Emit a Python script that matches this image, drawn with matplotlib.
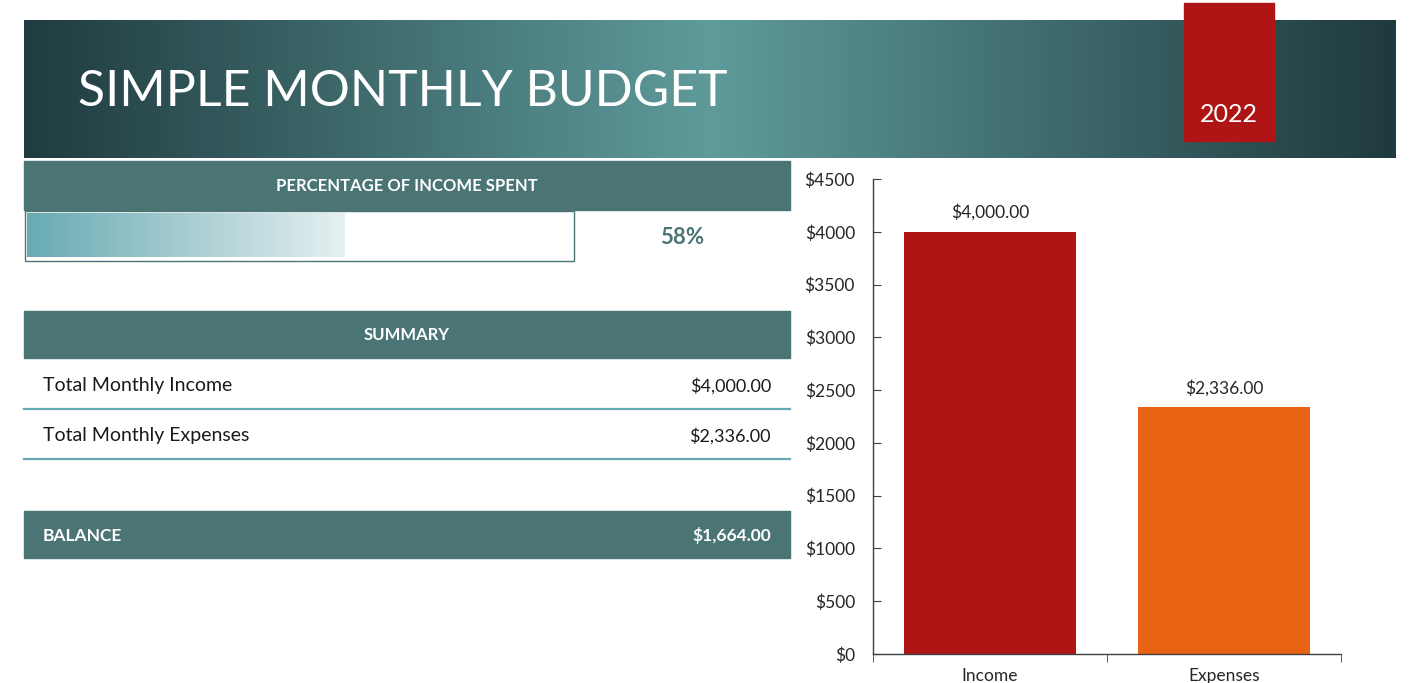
import numpy as np
import matplotlib
matplotlib.use("Agg")
import matplotlib.pyplot as plt
from matplotlib.patches import Rectangle
from matplotlib.colors import LinearSegmentedColormap

# ---- data ----
title = "SIMPLE MONTHLY BUDGET"
year = "2022"
categories = ["Income", "Expenses"]
values = [4000.00, 2336.00]
summary_labels = ["Total Monthly Income", "Total Monthly Expenses"]
balance = values[0] - values[1]
pct_spent = values[1] / values[0]
y_ticks = [0, 500, 1000, 1500, 2000, 2500, 3000, 3500, 4000, 4500]
bar_colors = ["#b01515", "#e86414"]

TEAL = "#4a7574"
LINE = "#65a9b2"
FONT = "Lato"

W, H = 1424, 683
fig = plt.figure(figsize=(W / 100, H / 100), dpi=100)
fig.patch.set_facecolor("white")

bg = fig.add_axes([0, 0, 1, 1])
bg.set_xlim(0, W)
bg.set_ylim(H, 0)
bg.axis("off")

# header gradient band
hdr_cmap = LinearSegmentedColormap.from_list(
    "hdr", [(0, "#203c40"), (0.5, "#5f9b9b"), (1, "#1f3a3e")])
grad = np.linspace(0, 1, 512).reshape(1, -1)
bg.imshow(grad, cmap=hdr_cmap, extent=(24, 1396, 158, 20), aspect="auto",
          interpolation="bilinear", zorder=1)
bg.text(78, 92, title, color="white", fontsize=36, fontfamily=FONT,
        fontweight="normal", va="center", ha="left", zorder=3)

# year tab
bg.add_patch(Rectangle((1184, 3), 90, 138, color="#b01515", zorder=2))
bg.text(1229, 114, year, color="white", fontsize=18, fontfamily=FONT,
        ha="center", va="center", zorder=3)

# percentage header
bg.add_patch(Rectangle((24, 161), 766, 49, color=TEAL, zorder=2))
bg.text(407, 186, "PERCENTAGE OF INCOME SPENT", color="white", fontsize=12,
        fontweight="bold", fontfamily=FONT, ha="center", va="center", zorder=3)

# progress box
bg.add_patch(Rectangle((24.5, 210.5), 549, 50, facecolor="white",
                       edgecolor=TEAL, linewidth=1, zorder=2))
inner_w = 544
pb_cmap = LinearSegmentedColormap.from_list("pb", ["#68aab3", "#e6f0f1"])
bg.imshow(grad, cmap=pb_cmap, extent=(27, 27 + inner_w * pct_spent, 257, 213),
          aspect="auto", interpolation="bilinear", zorder=3)
bg.text(682, 237, f"{pct_spent:.0%}", color=TEAL, fontsize=16, fontweight="bold",
        fontfamily=FONT, ha="center", va="center", zorder=3)

# summary header
bg.add_patch(Rectangle((24, 311), 766, 47, color=TEAL, zorder=2))
bg.text(407, 335, "SUMMARY", color="white", fontsize=12, fontweight="bold",
        fontfamily=FONT, ha="center", va="center", zorder=3)

row_y = [386, 436]
for lab, val, ry in zip(summary_labels, values, row_y):
    bg.text(43, ry, lab, color="#1a1a1a", fontsize=14, fontfamily=FONT,
            ha="left", va="center", zorder=3)
    bg.text(771, ry, f"${val:,.2f}", color="#1a1a1a", fontsize=13,
            fontfamily=FONT, ha="right", va="center", zorder=3)
    bg.plot([24, 790], [ry + 23, ry + 23], color=LINE, linewidth=1.6, zorder=3)

# balance band
bg.add_patch(Rectangle((24, 511), 766, 47, color=TEAL, zorder=2))
bg.text(43, 536, "BALANCE", color="white", fontsize=12.5, fontweight="bold",
        fontfamily=FONT, ha="left", va="center", zorder=3)
bg.text(771, 536, f"${balance:,.2f}", color="white", fontsize=12.5,
        fontweight="bold", fontfamily=FONT, ha="right", va="center", zorder=3)

# ---- bar chart ----
left, right, top, bottom = 873, 1341, 179, 654
ax = fig.add_axes([left / W, 1 - bottom / H, (right - left) / W, (bottom - top) / H])
ax.set_facecolor("none")
x = np.arange(len(categories))
bars = ax.bar(x, values, width=0.735, color=bar_colors, zorder=2)
ax.set_xlim(-0.5, len(categories) - 0.5)
ax.set_ylim(0, y_ticks[-1])
ax.set_yticks(y_ticks)
ax.set_yticklabels([f"${v}" for v in y_ticks])
ax.set_xticks(x)
ax.set_xticklabels(categories)
ax.set_xticks(np.arange(len(categories) + 1) - 0.5, minor=True)
ax.tick_params(axis="x", which="major", length=0, pad=10)
ax.tick_params(axis="x", which="minor", length=6, direction="out", color="#404040")
ax.tick_params(axis="y", which="major", length=6, direction="in", color="#404040", pad=13)
for lab in ax.get_xticklabels() + ax.get_yticklabels():
    lab.set_fontfamily(FONT)
    lab.set_fontsize(12.5)
    lab.set_color("#262626")
for s in ["top", "right"]:
    ax.spines[s].set_visible(False)
for s in ["left", "bottom"]:
    ax.spines[s].set_color("#404040")
    ax.spines[s].set_linewidth(1)
for b, v in zip(bars, values):
    ax.annotate(f"${v:,.2f}", (b.get_x() + b.get_width() / 2, v),
                xytext=(0, 14), textcoords="offset points", ha="center",
                va="center", fontsize=12.5, fontfamily=FONT, color="#262626")

fig.savefig("out.png", dpi=100)
